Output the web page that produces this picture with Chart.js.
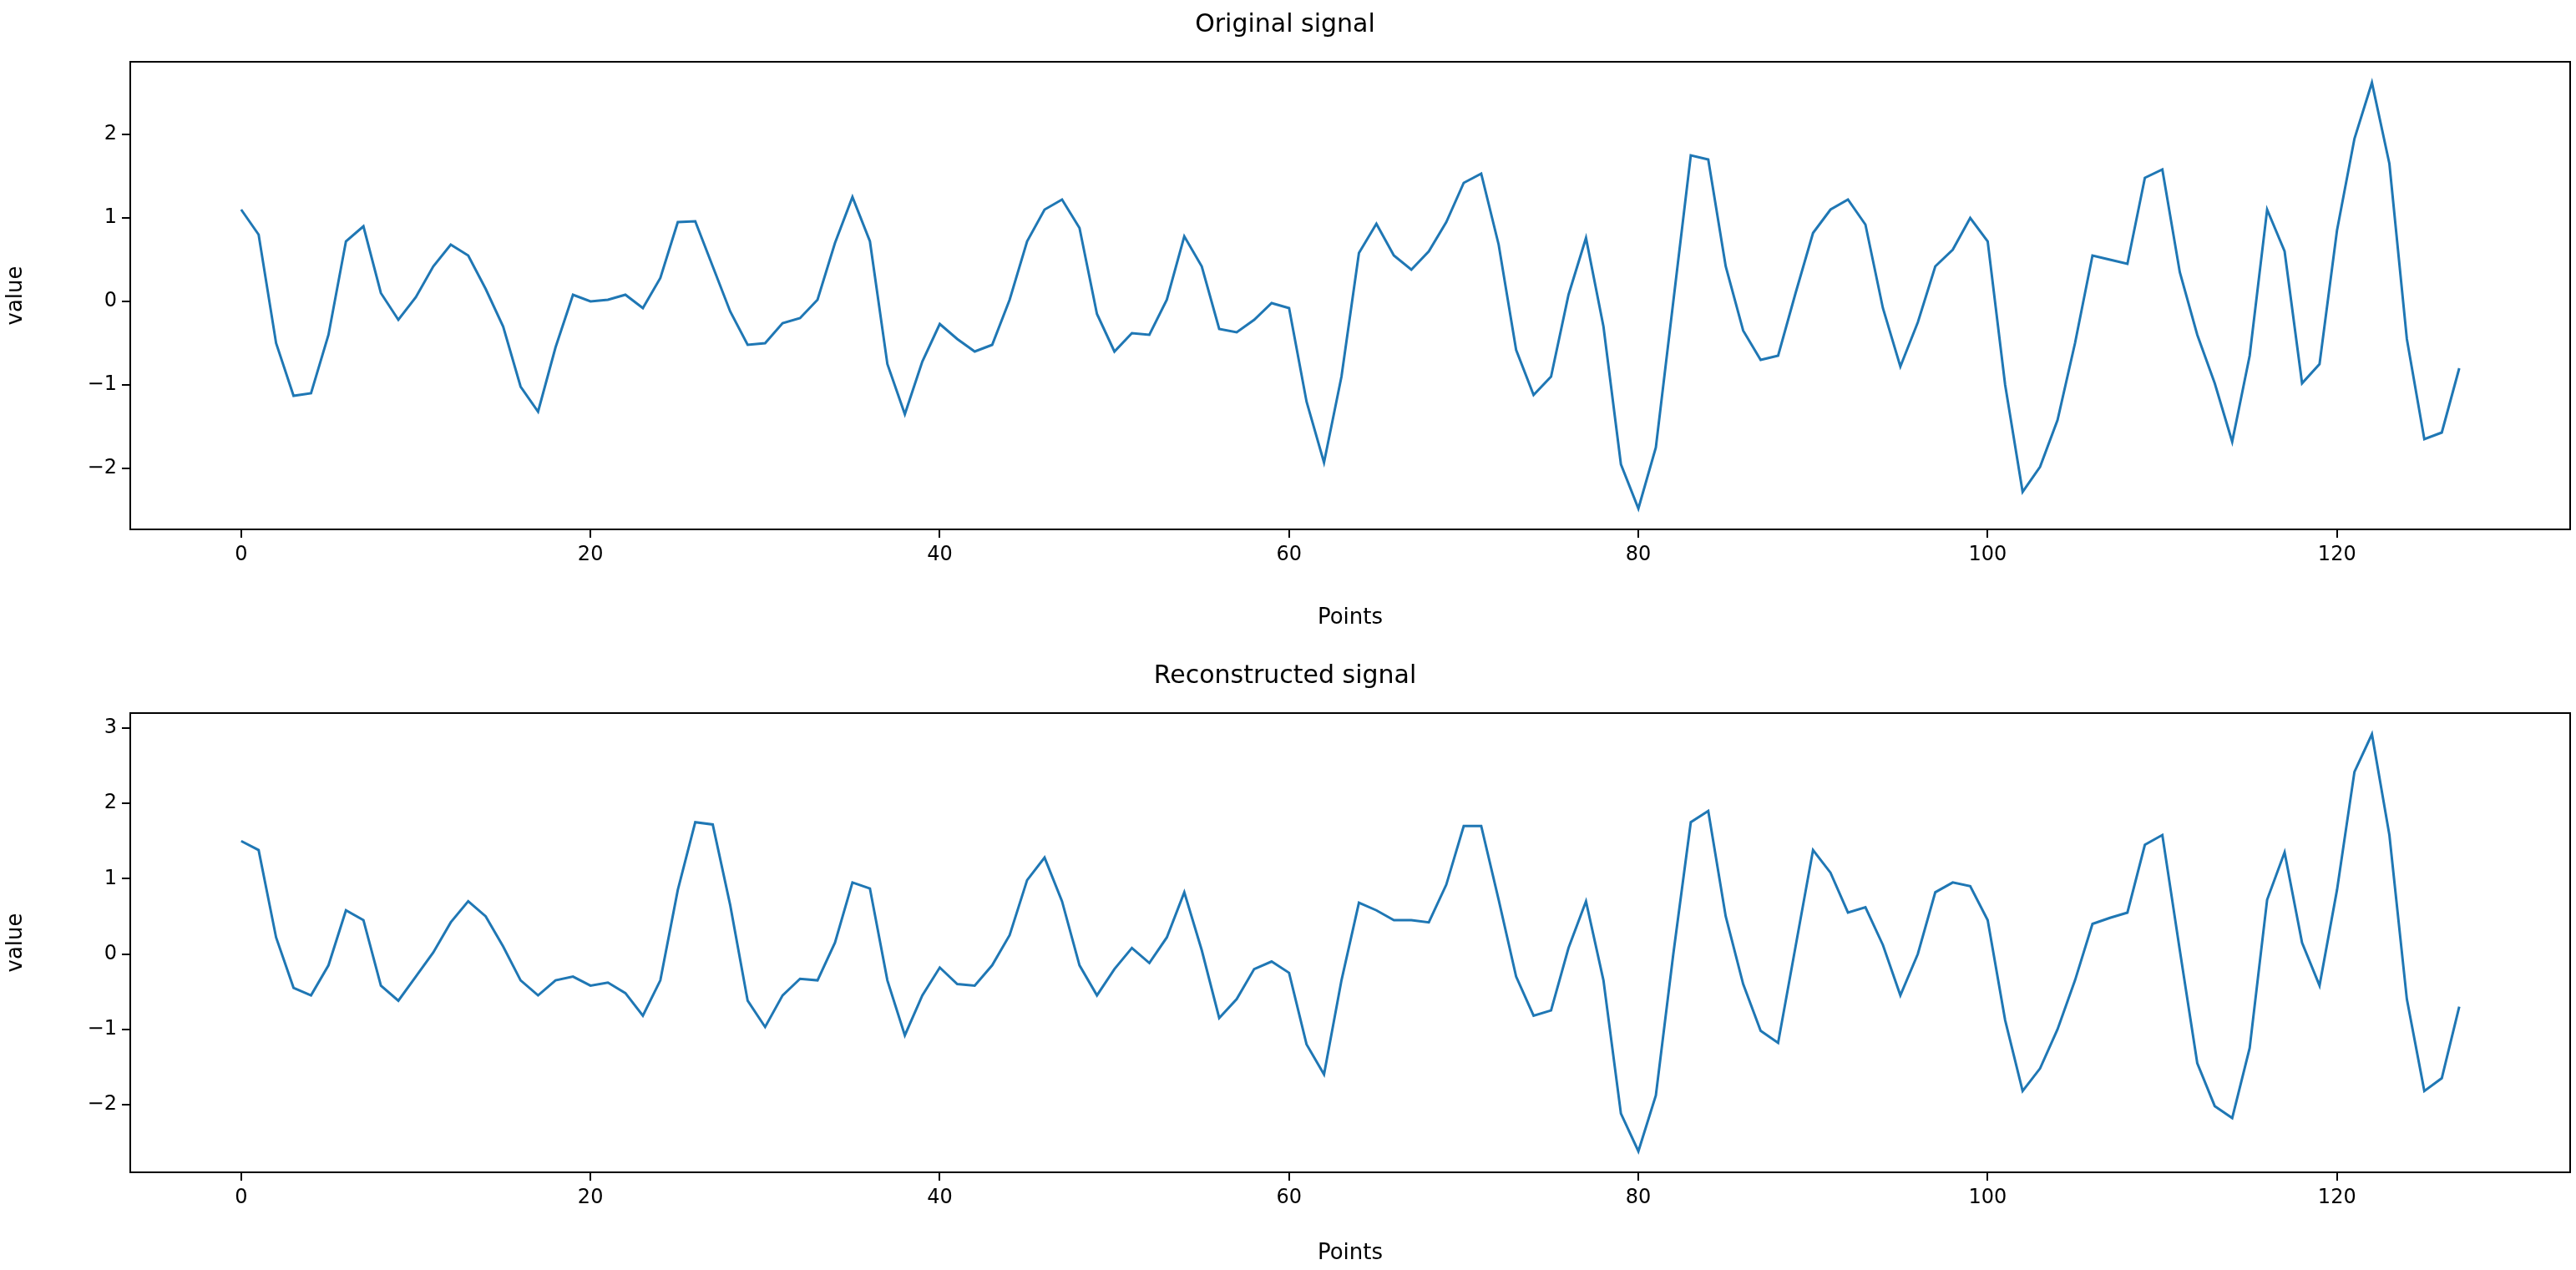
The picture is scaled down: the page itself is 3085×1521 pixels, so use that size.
<!DOCTYPE html>
<html>
<head>
<meta charset="utf-8">
<script src="https://cdn.jsdelivr.net/npm/chart.js@4/dist/chart.umd.min.js"></script>
<style>
  body { margin: 0; background: #fff; }
  canvas { position: absolute; left: 0; }
</style>
</head>
<body>
<canvas id="orig" width="3085" height="760" style="top:0"></canvas>
<canvas id="recon" width="3085" height="761" style="top:760px"></canvas>
<script>
// Original signal
const originalSignal = [
  1.1, 0.8, -0.5, -1.13, -1.1, -0.4, 0.72, 0.9, 0.1, -0.22,
  0.05, 0.42, 0.68, 0.55, 0.15, -0.3, -1.02, -1.32, -0.55, 0.08,
  0.0, 0.02, 0.08, -0.08, 0.28, 0.95, 0.96, 0.42, -0.12, -0.52,
  -0.5, -0.26, -0.2, 0.02, 0.7, 1.25, 0.72, -0.75, -1.35, -0.72,
  -0.27, -0.45, -0.6, -0.52, 0.02, 0.72, 1.1, 1.22, 0.88, -0.15,
  -0.6, -0.38, -0.4, 0.02, 0.78, 0.42, -0.33, -0.37, -0.22, -0.02,
  -0.08, -1.2, -1.93, -0.9, 0.58, 0.93, 0.55, 0.38, 0.6, 0.95,
  1.42, 1.53, 0.68, -0.58, -1.12, -0.9, 0.08, 0.76, -0.3, -1.95,
  -2.48, -1.75, 0.0, 1.75, 1.7, 0.42, -0.35, -0.7, -0.65, 0.1,
  0.82, 1.1, 1.22, 0.92, -0.08, -0.78, -0.25, 0.42, 0.62, 1.0,
  0.72, -1.0, -2.28, -1.98, -1.42, -0.5, 0.55, 0.5, 0.45, 1.48,
  1.58, 0.35, -0.4, -0.98, -1.68, -0.65, 1.1, 0.6, -0.98, -0.75,
  0.85, 1.95, 2.62, 1.65, -0.45, -1.65, -1.57, -0.8
];

// Reconstructed signal
const reconstructedSignal = [
  1.5, 1.38, 0.22, -0.45, -0.55, -0.15, 0.58, 0.45, -0.42, -0.62,
  -0.3, 0.02, 0.42, 0.7, 0.5, 0.1, -0.35, -0.55, -0.35, -0.3,
  -0.42, -0.38, -0.52, -0.82, -0.35, 0.85, 1.75, 1.72, 0.65, -0.62,
  -0.97, -0.55, -0.33, -0.35, 0.15, 0.95, 0.87, -0.35, -1.08, -0.55,
  -0.18, -0.4, -0.42, -0.15, 0.25, 0.98, 1.28, 0.7, -0.15, -0.55,
  -0.2, 0.08, -0.12, 0.22, 0.82, 0.05, -0.85, -0.6, -0.2, -0.1,
  -0.25, -1.2, -1.6, -0.35, 0.68, 0.58, 0.45, 0.45, 0.42, 0.92,
  1.7, 1.7, 0.72, -0.3, -0.82, -0.75, 0.08, 0.7, -0.35, -2.12,
  -2.62, -1.88, 0.0, 1.75, 1.9, 0.5, -0.4, -1.02, -1.18, 0.1,
  1.38, 1.08, 0.55, 0.62, 0.12, -0.55, 0.0, 0.82, 0.95, 0.9,
  0.45, -0.88, -1.82, -1.52, -1.0, -0.35, 0.4, 0.48, 0.55, 1.45,
  1.58, 0.05, -1.45, -2.02, -2.18, -1.25, 0.72, 1.35, 0.15, -0.42,
  0.85, 2.42, 2.92, 1.58, -0.6, -1.82, -1.65, -0.7
];

const xTicks = [0, 20, 40, 60, 80, 100, 120];
const yTicksOrig = [-2, -1, 0, 1, 2];
const yTicksRecon = [-2, -1, 0, 1, 2, 3];

Chart.defaults.font.family = 'DejaVu Sans';
Chart.defaults.color = '#000';

// frame around the plot area, like matplotlib spines
const frame = {
  id: 'frame',
  afterDraw( chart ) {
    const a = chart.chartArea, ctx = chart.ctx;
    ctx.save();
    ctx.strokeStyle = '#000';
    ctx.lineWidth = 2;
    ctx.strokeRect( a.left, a.top, a.right - a.left, a.bottom - a.top );
    ctx.restore();
  }
};

function makeChart( id, title, values, yMin, yMax, yTicks, padTop, xHeight ) {
  const points = values.map( function( v, i ) { return { x: i, y: v }; } );
  return new Chart( document.getElementById( id ), {
    type: 'line',
    data: {
      datasets: [ {
        data: points,
        borderColor: '#1f77b4',
        borderWidth: 3,
        pointRadius: 0,
        tension: 0
      } ]
    },
    options: {
      responsive: false,
      animation: false,
      devicePixelRatio: 1,
      layout: { padding: { top: padTop, right: 7, left: 0, bottom: 0 } },
      plugins: {
        legend: { display: false },
        tooltip: { enabled: false },
        title: {
          display: true,
          text: title,
          font: { size: 30, weight: 'normal' },
          padding: { top: 12, bottom: 26 }
        }
      },
      scales: {
        x: {
          type: 'linear',
          min: -6.35,
          max: 133.35,
          afterBuildTicks: function( axis ) {
            axis.ticks = xTicks.map( function( v ) { return { value: v }; } );
          },
          afterFit: function( axis ) { axis.height = xHeight; },
          grid: { drawOnChartArea: false, tickLength: 10, color: '#000', lineWidth: 2 },
          border: { display: false },
          ticks: { font: { size: 24 }, padding: 6, maxRotation: 0 },
          title: { display: true, text: 'Points', font: { size: 26 }, padding: { top: 0 } }
        },
        y: {
          min: yMin,
          max: yMax,
          afterBuildTicks: function( axis ) {
            axis.ticks = yTicks.map( function( v ) { return { value: v }; } );
          },
          afterFit: function( axis ) { axis.width = 156; },
          grid: { drawOnChartArea: false, tickLength: 10, color: '#000', lineWidth: 2 },
          border: { display: false },
          ticks: {
            font: { size: 24 },
            padding: 6,
            callback: function( v ) { return String( v ).replace( '-', '\u2212' ); }
          },
          title: { display: true, text: 'value', font: { size: 26 } }
        }
      }
    },
    plugins: [ frame ]
  } );
}

makeChart( 'orig', 'Original signal', originalSignal, -2.73, 2.87, yTicksOrig, 0, 126 );
makeChart( 'recon', 'Reconstructed signal', reconstructedSignal, -2.9, 3.2, yTicksRecon, 20, 117 );
</script>
</body>
</html>
